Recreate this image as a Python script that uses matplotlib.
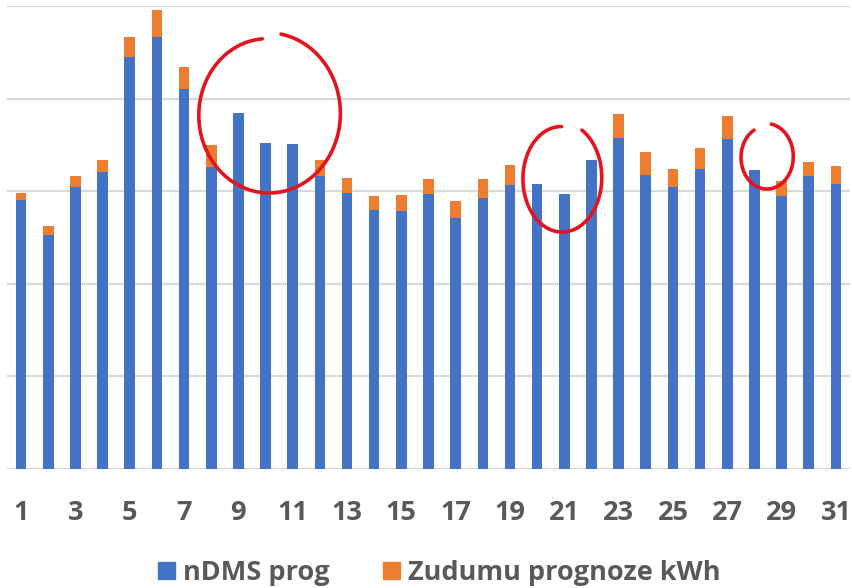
import numpy as np
import matplotlib.pyplot as plt
from matplotlib.patches import Patch

days = list(range(1, 32))
ndms_prog = [291, 253, 305, 321, 445, 466, 410, 326, 384, 352, 351, 316, 298, 280, 279, 297,
             271, 293, 307, 308, 297, 334, 357, 317, 304, 324, 356, 323, 295, 316, 308]
zudumu = [7, 9, 11, 13, 22, 30, 24, 24, 0, 0, 0, 18, 16, 15, 17, 16,
          18, 20, 21, 0, 0, 0, 26, 25, 20, 23, 25, 0, 16, 16, 19]
tick_labels = [str(d) for d in days if d % 2 == 1]

# hand drawn red circles: (x centre, y centre, x radius, y radius, start angle, sweep)
circles = [(10.1, 383, 2.7, 88, 80, -345),
           (20.9, 314, 1.5, 60, 60, -330),
           (28.45, 337, 1.0, 36, 80, -320)]

blue = '#4472C4'
orange = '#ED7D31'
font = 'Open Sans'

fig = plt.figure(figsize=(8.53, 5.88), dpi=100)
ax = fig.add_axes([7 / 853, (588 - 469) / 588, 843 / 853, 463 / 588])

ax.bar(days, ndms_prog, width=0.39, color=blue, zorder=2)
ax.bar(days, zudumu, width=0.39, bottom=ndms_prog, color=orange, zorder=2)

ax.set_xlim(0.48, 31.52)
ax.set_ylim(0, 500)
ax.set_yticks(np.arange(0, 501, 100))
ax.yaxis.grid(True, color='#D9D9D9', linewidth=1.6, zorder=0)
ax.tick_params(axis='y', left=False, labelleft=False)
ax.set_xticks([d for d in days if d % 2 == 1])
ax.set_xticklabels(tick_labels, fontsize=19.5, fontweight='bold', color='#595959', family=font)
ax.tick_params(axis='x', length=0, pad=22)
for s in ax.spines.values():
    s.set_visible(False)

for cx, cy, rx, ry, a0, sweep in circles:
    t = np.radians(np.linspace(a0, a0 + sweep, 200))
    k = np.linspace(1.0, 0.93, 200)
    ax.plot(cx + rx * k * np.cos(t), cy + ry * k * np.sin(t), color='#E3141E', lw=2.6,
            zorder=5, solid_capstyle='round', clip_on=False)

handles = [Patch(color=blue, label='nDMS prog'), Patch(color=orange, label='Zudumu prognoze kWh')]
fig.legend(handles=handles, loc='center', bbox_to_anchor=(0.515, 15 / 588), ncol=2, frameon=False,
           prop={'family': font, 'weight': 'bold', 'size': 19.5}, labelcolor='#595959',
           handlelength=0.6, handleheight=0.6, handletextpad=0.3, columnspacing=2.0)

fig.savefig('out.png', dpi=100)
